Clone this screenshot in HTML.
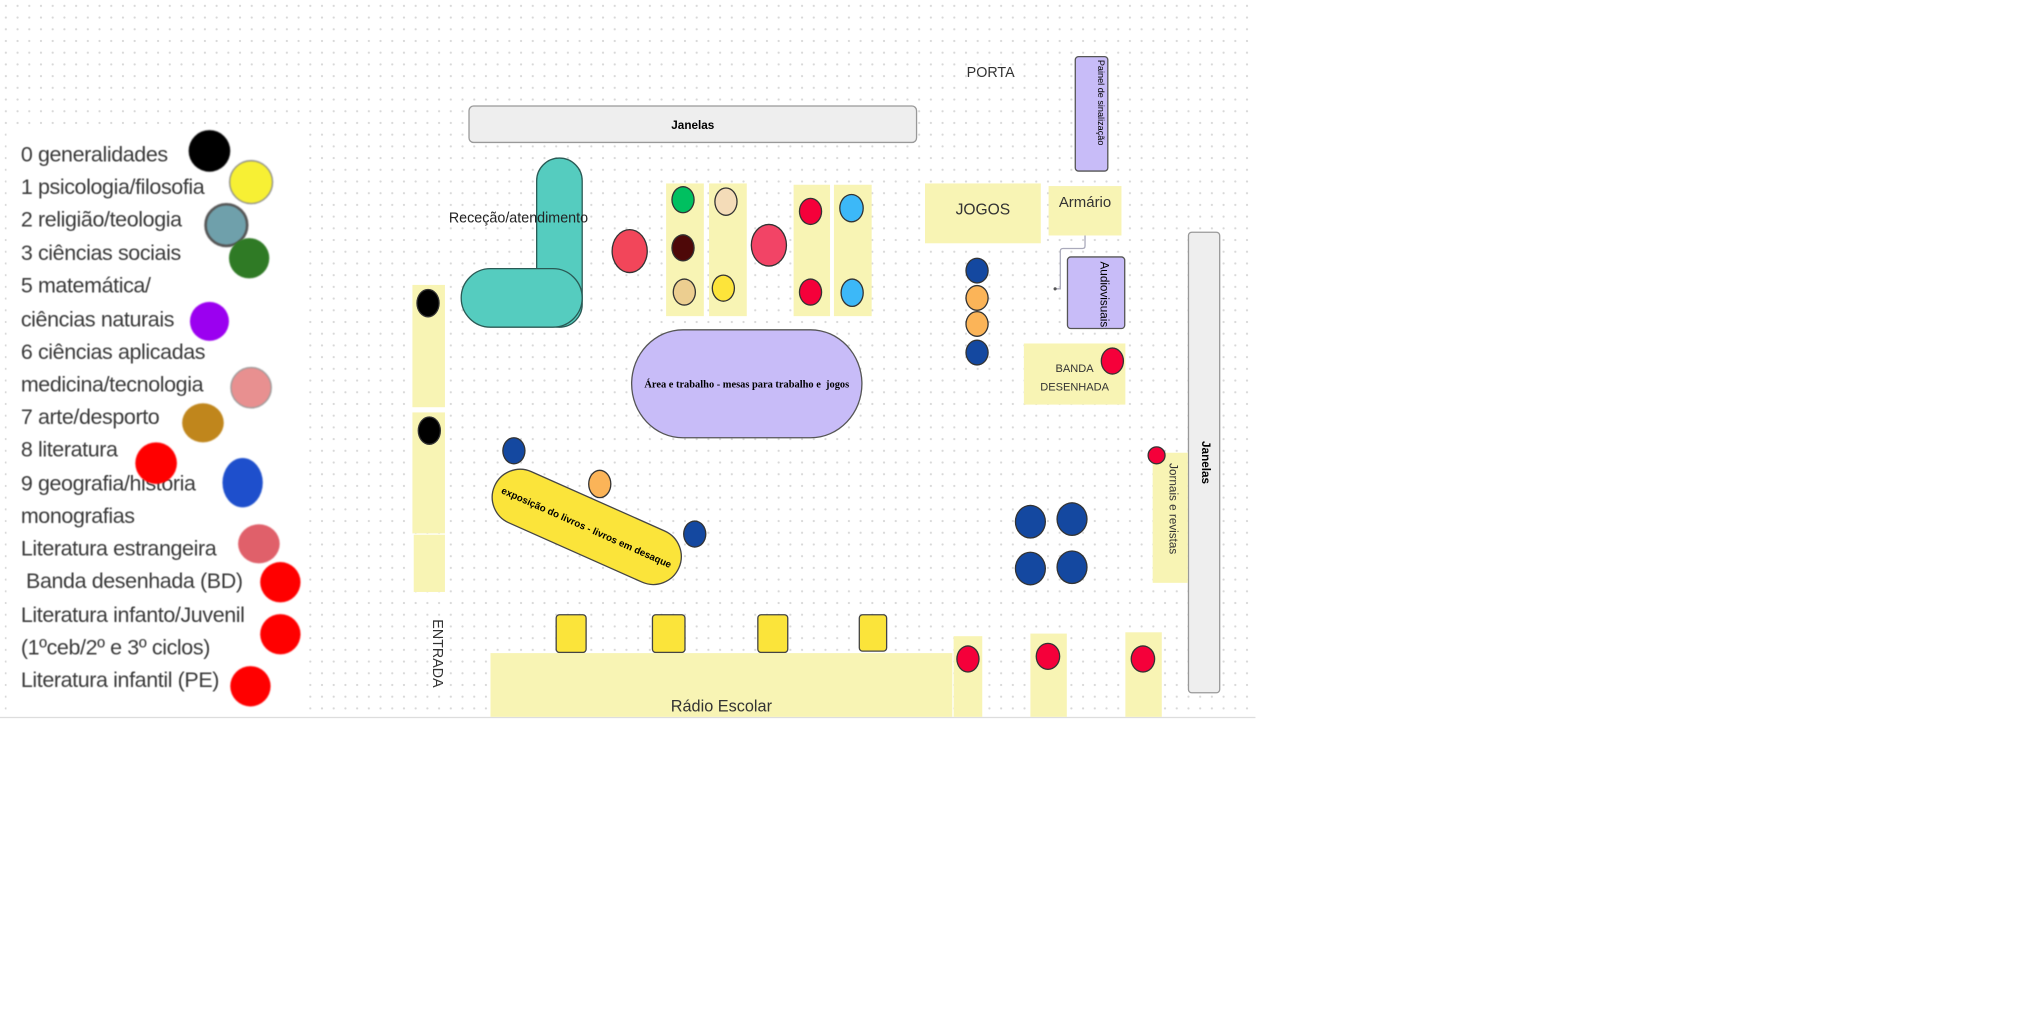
<!DOCTYPE html>
<html><head><meta charset="utf-8"><style>
html,body{margin:0;padding:0;background:#fff;width:2040px;height:1029px;overflow:hidden}
#s{position:absolute;left:0;top:0;width:1568px;height:792px;transform:scale(1.301);transform-origin:0 0;font-family:"Liberation Sans",sans-serif}
.grid{position:absolute;left:0;top:0;width:965px;height:551px;background-color:#fff;background-image:radial-gradient(circle,#d8d8d8 0.7px,transparent 1px);background-size:9px 9px;border-bottom:1px solid #ddd}
.a{position:absolute;box-sizing:border-box}
.c{position:absolute;border-radius:50%;border:1px solid #333;box-sizing:border-box}
.y{background:#f8f4b4;position:absolute;box-sizing:border-box}
.lg{position:absolute;left:16px;font-size:16.5px;letter-spacing:-0.3px;color:#3a3a3a;white-space:nowrap;filter:blur(.4px)}
.b{position:absolute;border-radius:50%;filter:blur(.6px)}
</style></head><body><div id="s">
<div class="grid"></div>
<div class="a" style="left:5px;top:100px;width:230px;height:450px;background:#fff"></div>
<div class="lg" style="top:110px">0 generalidades</div>
<div class="lg" style="top:135px">1 psicologia/filosofia</div>
<div class="lg" style="top:160px">2 religião/teologia</div>
<div class="lg" style="top:186px">3 ciências sociais</div>
<div class="lg" style="top:211px">5 matemática/</div>
<div class="lg" style="top:237px">ciências naturais</div>
<div class="lg" style="top:262px">6 ciências aplicadas</div>
<div class="lg" style="top:287px">medicina/tecnologia</div>
<div class="lg" style="top:312px">7 arte/desporto</div>
<div class="lg" style="top:337px">8 literatura</div>
<div class="lg" style="top:363px">9 geografia/história</div>
<div class="lg" style="top:388px">monografias</div>
<div class="lg" style="top:413px">Literatura estrangeira</div>
<div class="lg" style="top:438px;left:20px">Banda desenhada (BD)</div>
<div class="lg" style="top:464px">Literatura infanto/Juvenil</div>
<div class="lg" style="top:489px">(1ºceb/2º e 3º ciclos)</div>
<div class="lg" style="top:514px">Literatura infantil (PE)</div>
<div class="b" style="left:145px;top:100px;width:32px;height:32px;background:#000"></div>
<div class="b" style="left:176px;top:123px;width:32px;height:32px;background:#f7f034;border:1px solid #888"></div>
<div class="b" style="left:157px;top:156px;width:30px;height:30px;background:#6fa0ab;border:2px solid #555"></div>
<div class="b" style="left:176px;top:183px;width:31px;height:31px;background:#2f7a25"></div>
<div class="b" style="left:146px;top:232px;width:30px;height:30px;background:#9b00f0"></div>
<div class="b" style="left:177px;top:282px;width:30px;height:30px;background:#e89090;border:1px solid #999"></div>
<div class="b" style="left:140px;top:310px;width:32px;height:30px;background:#c0861c"></div>
<div class="b" style="left:104px;top:340px;width:32px;height:32px;background:#f00"></div>
<div class="b" style="left:171px;top:352px;width:31px;height:38px;background:#1e4fcc"></div>
<div class="b" style="left:183px;top:403px;width:32px;height:30px;background:#e0606a"></div>
<div class="b" style="left:200px;top:432px;width:31px;height:31px;background:#f00"></div>
<div class="b" style="left:200px;top:472px;width:31px;height:31px;background:#f00"></div>
<div class="b" style="left:177px;top:512px;width:31px;height:31px;background:#f00"></div>

<div class="a" style="left:360px;top:81px;width:345px;height:29px;background:#eee;border:1px solid #999;border-radius:4px;text-align:center;font-size:9px;font-weight:bold;line-height:28px">Janelas</div>
<div class="a" style="left:743px;top:50px;font-size:11px;color:#333">PORTA</div>
<div class="a" style="left:826px;top:43px;width:26px;height:89px;background:#c8bcf8;border:1px solid #555;border-radius:3px"><div style="position:absolute;left:22px;top:2px;transform:rotate(90deg);transform-origin:0 0;font-size:7px;white-space:nowrap">Painel de sinalização</div></div>

<div class="a" style="left:412px;top:121px;width:36px;height:131px;background:#55ccbf;border:1px solid #2a5a55;border-radius:18px"></div>
<div class="a" style="left:354px;top:206px;width:94px;height:46px;background:#55ccbf;border:1px solid #2a5a55;border-radius:23px"></div>
<div class="a" style="left:345px;top:162px;font-size:11px;color:#222">Receção/atendimento</div>

<div class="c" style="left:470px;top:176px;width:28px;height:34px;background:#f2465a"></div>
<div class="c" style="left:577px;top:172px;width:28px;height:33px;background:#f24466"></div>

<div class="y" style="left:512px;top:141px;width:29px;height:102px"></div>
<div class="y" style="left:545px;top:141px;width:29px;height:102px"></div>
<div class="y" style="left:610px;top:142px;width:28px;height:101px"></div>
<div class="y" style="left:641px;top:142px;width:29px;height:101px"></div>
<div class="c" style="left:516px;top:143px;width:18px;height:21px;background:#00c060"></div>
<div class="c" style="left:516px;top:180px;width:18px;height:21px;background:#4e0808"></div>
<div class="c" style="left:517px;top:214px;width:18px;height:21px;background:#ecce90"></div>
<div class="c" style="left:549px;top:144px;width:18px;height:22px;background:#f4dcb8"></div>
<div class="c" style="left:547px;top:211px;width:18px;height:21px;background:#fde43a"></div>
<div class="c" style="left:614px;top:152px;width:18px;height:21px;background:#f5003a"></div>
<div class="c" style="left:614px;top:214px;width:18px;height:21px;background:#f5003a"></div>
<div class="c" style="left:645px;top:149px;width:19px;height:22px;background:#3cb8f8"></div>
<div class="c" style="left:646px;top:214px;width:18px;height:22px;background:#3cb8f8"></div>

<div class="a" style="left:485px;top:253px;width:178px;height:84px;background:#c8bcf8;border:1px solid #555;border-radius:40px/42px;text-align:center;font-size:8px;font-weight:bold;line-height:84px;font-family:'Liberation Serif',serif">Área e trabalho - mesas para trabalho e &nbsp;jogos</div>

<div class="y" style="left:711px;top:141px;width:89px;height:46px;text-align:center;font-size:12px;line-height:40px;color:#333">JOGOS</div>
<div class="y" style="left:806px;top:143px;width:56px;height:38px;text-align:center;font-size:11.5px;line-height:26px;color:#333">Armário</div>
<svg class="a" style="left:800px;top:180px" width="40" height="50"><path d="M34 1 V9 Q34 11 32 11 H17 Q15 11 15 13 V42 H10" fill="none" stroke="#aab" stroke-width="1"/><circle cx="11" cy="42" r="1.2" fill="#555"/></svg>
<div class="a" style="left:820px;top:197px;width:45px;height:56px;background:#c8bcf8;border:1px solid #555;border-radius:3px"><div style="position:absolute;left:33px;top:3px;transform:rotate(90deg);transform-origin:0 0;font-size:9px;white-space:nowrap">Audiovisuais</div></div>

<div class="c" style="left:742px;top:198px;width:18px;height:20px;background:#1448a0"></div>
<div class="c" style="left:742px;top:219px;width:18px;height:20px;background:#fbb458"></div>
<div class="c" style="left:742px;top:239px;width:18px;height:20px;background:#fbb458"></div>
<div class="c" style="left:742px;top:261px;width:18px;height:20px;background:#1448a0"></div>

<div class="y" style="left:787px;top:264px;width:78px;height:47px;text-align:center;font-size:8.5px;line-height:14px;padding-top:12px;color:#333">BANDA<br>DESENHADA</div>
<div class="c" style="left:846px;top:267px;width:18px;height:21px;background:#f5003a"></div>

<div class="a" style="left:913px;top:178px;width:25px;height:355px;background:#eee;border:1px solid #999;border-radius:3px"><div style="position:absolute;left:18px;top:160px;transform:rotate(90deg);transform-origin:0 0;font-size:9px;font-weight:bold">Janelas</div></div>
<div class="y" style="left:886px;top:348px;width:27px;height:100px"><div style="position:absolute;left:21px;top:8px;transform:rotate(90deg);transform-origin:0 0;font-size:9px;white-space:nowrap;color:#333">Jornais e revistas</div></div>
<div class="c" style="left:882px;top:343px;width:14px;height:14px;background:#f5003a"></div>

<div class="c" style="left:780px;top:388px;width:24px;height:26px;background:#1448a0"></div>
<div class="c" style="left:812px;top:386px;width:24px;height:26px;background:#1448a0"></div>
<div class="c" style="left:780px;top:424px;width:24px;height:26px;background:#1448a0"></div>
<div class="c" style="left:812px;top:423px;width:24px;height:26px;background:#1448a0"></div>

<div class="y" style="left:317px;top:219px;width:25px;height:94px"></div>
<div class="y" style="left:317px;top:317px;width:25px;height:93px"></div>
<div class="y" style="left:318px;top:411px;width:24px;height:44px"></div>
<div class="c" style="left:320px;top:222px;width:18px;height:22px;background:#000"></div>
<div class="c" style="left:321px;top:320px;width:18px;height:22px;background:#000"></div>
<div class="a" style="left:342px;top:476px;transform:rotate(90deg);transform-origin:0 0;font-size:11px;color:#333">ENTRADA</div>

<div class="c" style="left:386px;top:336px;width:18px;height:21px;background:#1448a0"></div>
<div class="c" style="left:452px;top:361px;width:18px;height:22px;background:#fbb458"></div>
<div class="c" style="left:525px;top:400px;width:18px;height:21px;background:#1448a0"></div>

<div class="a" style="left:373px;top:383px;width:156px;height:44px;background:#fbe43a;border:1px solid #444;border-radius:22px;transform:rotate(24deg);text-align:center;font-size:7.5px;font-weight:bold;line-height:44px;white-space:nowrap">exposição do livros - livros em desaque</div>

<div class="a" style="left:427px;top:472px;width:24px;height:30px;background:#fbe43a;border:1px solid #444;border-radius:3px"></div>
<div class="a" style="left:501px;top:472px;width:26px;height:30px;background:#fbe43a;border:1px solid #444;border-radius:3px"></div>
<div class="a" style="left:582px;top:472px;width:24px;height:30px;background:#fbe43a;border:1px solid #444;border-radius:3px"></div>
<div class="a" style="left:660px;top:472px;width:22px;height:29px;background:#fbe43a;border:1px solid #444;border-radius:3px"></div>

<div class="y" style="left:377px;top:502px;width:355px;height:49px"><div style="position:absolute;left:0;right:0;top:34px;text-align:center;font-size:12.5px;color:#333">Rádio Escolar</div></div>
<div class="y" style="left:733px;top:489px;width:22px;height:62px"></div>
<div class="y" style="left:792px;top:487px;width:28px;height:64px"></div>
<div class="y" style="left:865px;top:486px;width:28px;height:65px"></div>
<div class="c" style="left:735px;top:496px;width:18px;height:21px;background:#f5003a"></div>
<div class="c" style="left:796px;top:494px;width:19px;height:21px;background:#f5003a"></div>
<div class="c" style="left:869px;top:496px;width:19px;height:21px;background:#f5003a"></div>
</div></body></html>
